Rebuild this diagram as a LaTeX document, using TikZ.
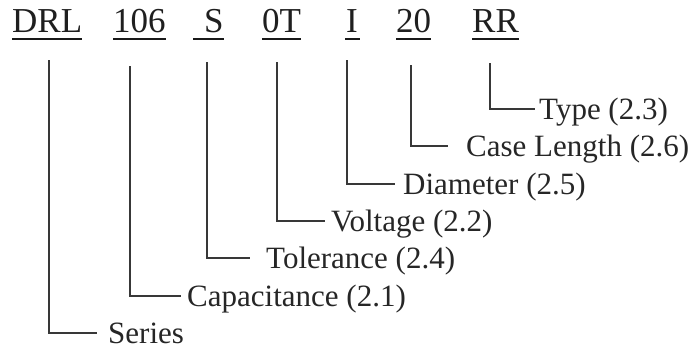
\documentclass[tikz,border=0pt]{standalone}
\usepackage{fontspec}
\setmainfont{Liberation Serif}
\begin{document}
\begin{tikzpicture}[x=1pt,y=-1pt,
  codetxt/.style={anchor=base west,inner sep=0pt,font=\fontsize{35}{35}\selectfont,text=black!88},
  lbltxt/.style={anchor=base west,inner ysep=0pt,font=\fontsize{31}{31}\selectfont,text=black!85},
  uline/.style={line width=2.2pt,black!90},
  leg/.style={line width=1.3pt,black!78}]
\useasboundingbox (0,0) rectangle (698,351);
% codes
\node[codetxt] (c1) at (12,32) {DRL};
\node[codetxt] (c2) at (113,32) {106};
\node[codetxt] (c3) at (204,32) {S};
\node[codetxt] (c4) at (262,32) {0T};
\node[codetxt] (c5) at (346,32) {I};
\node[codetxt] (c6) at (396,32) {20};
\node[codetxt] (c7) at (472,32) {RR};
% underlines
\draw[uline] ([yshift=-7pt]c1.base west) -- ([yshift=-7pt]c1.base east);
\draw[uline] ([yshift=-7pt]c2.base west) -- ([yshift=-7pt]c2.base east);
\draw[uline] ([xshift=-11pt,yshift=-7pt]c3.base west) -- ([yshift=-7pt]c3.base east);
\draw[uline] ([yshift=-7pt]c4.base west) -- ([yshift=-7pt]c4.base east);
\draw[uline] ([xshift=-1pt,yshift=-7pt]c5.base west) -- ([xshift=2pt,yshift=-7pt]c5.base east);
\draw[uline] ([yshift=-7pt]c6.base west) -- ([yshift=-7pt]c6.base east);
\draw[uline] ([yshift=-7pt]c7.base west) -- ([yshift=-7pt]c7.base east);
% leg tops
\coordinate (t1) at (49,60);
\coordinate (t2) at (130,66);
\coordinate (t3) at (207,62);
\coordinate (t4) at (277,62);
\coordinate (t5) at (347,60);
\coordinate (t6) at (411,65);
\coordinate (t7) at (490,63);
% labels
\node[lbltxt,inner xsep=11pt] (l1) at (97,343) {Series};
\node[lbltxt,inner xsep=6pt] (l2) at (181,306) {Capacitance (2.1)};
\node[lbltxt,inner xsep=16pt] (l3) at (250,268) {Tolerance (2.4)};
\node[lbltxt,inner xsep=6pt] (l4) at (325,231) {Voltage (2.2)};
\node[lbltxt,inner xsep=8pt] (l5) at (395,194) {Diameter (2.5)};
\node[lbltxt,inner xsep=18pt] (l6) at (448,156) {Case Length (2.6)};
\node[lbltxt,inner xsep=4pt] (l7) at (535,119) {Type (2.3)};
% connectors
\draw[leg] (t1) |- ([yshift=10pt]l1.base west);
\draw[leg] (t2) |- ([yshift=10pt]l2.base west);
\draw[leg] (t3) |- ([yshift=10pt]l3.base west);
\draw[leg] (t4) |- ([yshift=10pt]l4.base west);
\draw[leg] (t5) |- ([yshift=10pt]l5.base west);
\draw[leg] (t6) |- ([yshift=10pt]l6.base west);
\draw[leg] (t7) |- ([yshift=10pt]l7.base west);
\end{tikzpicture}
\end{document}
